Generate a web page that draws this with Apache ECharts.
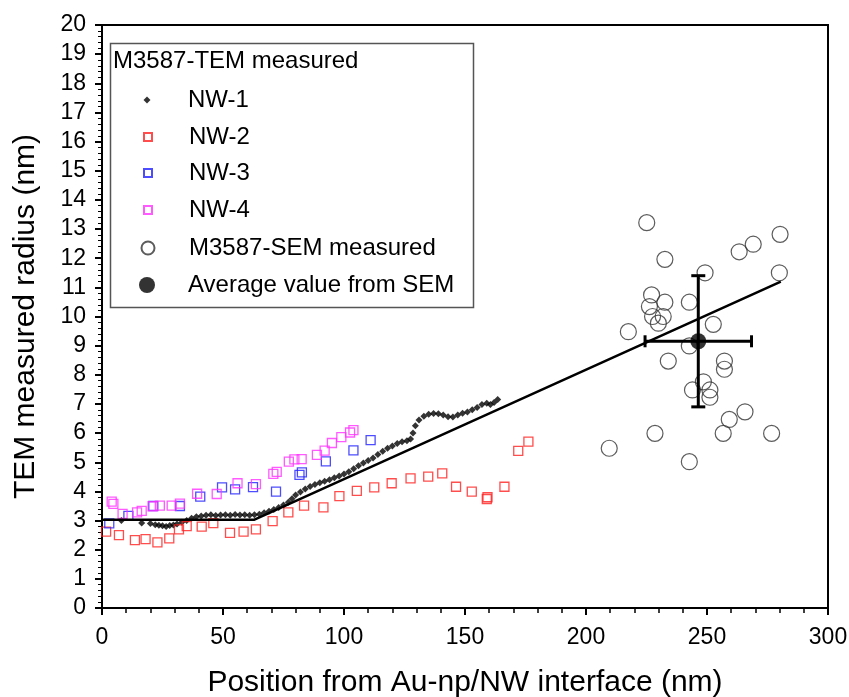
<!DOCTYPE html>
<html>
<head>
<meta charset="utf-8">
<script src="https://cdn.jsdelivr.net/npm/echarts@6/dist/echarts.min.js"></script>
<style>
  html, body { margin: 0; padding: 0; background: #fff; }
  #chart { width: 849px; height: 697px; }
</style>
</head>
<body>
<div id="chart"></div>
<script>
// TEM measured radius, [position nm, radius nm]
const nw1 = [
  [8, 3.0], [16.4, 2.92], [20, 2.9], [22, 2.86], [23.5, 2.84], [25, 2.82], [26.5, 2.8], [28, 2.83],
  [29.5, 2.85], [31, 2.88], [33, 2.94], [35, 3.0], [37, 3.08], [39, 3.13], [41, 3.16], [43, 3.18],
  [45, 3.2], [47, 3.17], [49, 3.19], [51, 3.2], [53, 3.18], [55, 3.21], [57, 3.19], [59, 3.2],
  [61, 3.18], [63, 3.2], [65, 3.22], [67, 3.27], [69, 3.32], [71, 3.38], [73, 3.45], [75, 3.53],
  [77, 3.63], [78.5, 3.75], [80, 3.88], [82, 3.98], [84, 4.08], [86, 4.17], [88, 4.24], [90, 4.3],
  [92, 4.35], [94, 4.4], [96, 4.47], [98, 4.53], [100, 4.6], [102, 4.67], [104, 4.78], [106, 4.88],
  [108, 4.97], [110, 5.06], [112, 5.15], [114, 5.27], [116, 5.38], [118, 5.48], [120, 5.56],
  [122, 5.64], [124, 5.7], [126, 5.74], [127.5, 5.8], [128.5, 6.0], [129.5, 6.25], [131, 6.45],
  [133, 6.58], [135, 6.65], [137, 6.67], [139, 6.66], [141, 6.62], [143, 6.56], [145, 6.55],
  [147, 6.62], [149, 6.68], [151, 6.72], [153, 6.8], [155, 6.88], [157, 6.98], [159, 7.02],
  [160.5, 6.98], [162, 7.05], [163.5, 7.15]
];
const nw2 = [
  [1.7, 2.62], [7, 2.5], [13.6, 2.33], [18, 2.36], [22.9, 2.25], [27.8, 2.39], [31.8, 2.7],
  [35, 2.81], [41.2, 2.79], [46, 2.91], [52.9, 2.58], [58.5, 2.62], [63.6, 2.7], [70.5, 2.98],
  [77, 3.28], [83.5, 3.51], [91.5, 3.45], [98.1, 3.84], [105.3, 4.02], [112.5, 4.14],
  [119.7, 4.28], [127.5, 4.45], [134.8, 4.51], [140.6, 4.62], [146.3, 4.16], [152.8, 3.99],
  [159, 3.74], [159.3, 3.8], [166.3, 4.16], [172, 5.39], [176.2, 5.71]
];
const nw3 = [
  [3, 2.9], [10.9, 3.16], [21.2, 3.5], [32.2, 3.5], [40.6, 3.82], [49.6, 4.14], [55, 4.07],
  [62.4, 4.15], [71.9, 3.99], [81.6, 4.57], [82.6, 4.65], [92.5, 5.03], [103.9, 5.41], [111, 5.76]
];
const nw4 = [
  [4, 3.65], [4.7, 3.57], [8.5, 3.23], [14.5, 3.28], [16.4, 3.33], [20.9, 3.49], [23.9, 3.51],
  [28.8, 3.51], [32.2, 3.58], [39.3, 3.92], [47.4, 3.91], [56, 4.28], [63.6, 4.25], [70.8, 4.6],
  [72.2, 4.67], [77.2, 5.02], [79.5, 5.1], [82.5, 5.11], [88.8, 5.25], [92, 5.4], [95, 5.66],
  [98.9, 5.86], [102.5, 6.02], [103.9, 6.1]
];
// SEM measured radius
const sem = [
  [225.1, 13.22], [232.6, 11.96], [249.2, 11.5], [263.3, 12.22], [269.1, 12.48], [280.2, 12.82],
  [279.9, 11.5], [227.1, 10.74], [232.6, 10.49], [226.2, 10.34], [242.7, 10.49], [231.9, 10.0],
  [227.5, 10.0], [229.9, 9.77], [217.5, 9.48], [252.6, 9.73], [242.7, 8.99], [234, 8.47],
  [257.2, 8.47], [257.2, 8.19], [248.5, 7.76], [244, 7.48], [251.2, 7.48], [251.2, 7.23],
  [265.7, 6.73], [259.2, 6.47], [228.5, 5.99], [256.7, 5.99], [276.7, 5.99], [209.6, 5.48],
  [242.7, 5.02]
];
// average from SEM: [x, y, xErr, yErr]
const semAvg = [[246.4, 9.15, 22, 2.25]];
// piecewise linear fit
const fitLine = [[0, 3.03], [63, 3.03], [280.5, 11.2]];

const xTicks = [0, 50, 100, 150, 200, 250, 300];
const yTicks = [0, 20];

const FONT = "'Liberation Sans', Arial, sans-serif";

const chart = echarts.init(document.getElementById('chart'));

const legendRow = (name, top, w) => ({
  data: [name],
  left: 147 - w / 2,
  top: top - 12,
  orient: 'vertical',
  padding: 0,
  itemWidth: w,
  itemHeight: w,
  selectedMode: false,
  textStyle: {
    fontFamily: FONT, fontSize: 24, color: '#000',
    padding: [0, 0, 0, 36 - w / 2]
  }
});

const option = {
  animation: false,
  backgroundColor: '#fff',
  grid: {
    left: 102, right: 21, top: 25, bottom: 89,
    outerBoundsMode: 'none', containLabel: false,
    show: true, borderColor: '#000', borderWidth: 2
  },
  xAxis: {
    type: 'value',
    min: xTicks[0], max: xTicks[xTicks.length - 1], interval: 50,
    name: 'Position from Au-np/NW interface (nm)',
    nameLocation: 'middle', nameGap: 60,
    nameTextStyle: { fontFamily: FONT, fontSize: 30, color: '#000' },
    axisLine: { lineStyle: { color: '#000', width: 2 } },
    axisTick: { length: 7, lineStyle: { color: '#000', width: 2 } },
    minorTick: { show: true, splitNumber: 5, length: 5, lineStyle: { color: '#000', width: 1.5 } },
    splitLine: { show: false },
    axisLabel: { fontFamily: FONT, fontSize: 23, color: '#000', margin: 18 }
  },
  yAxis: {
    type: 'value',
    min: yTicks[0], max: yTicks[1], interval: 1,
    name: 'TEM measured radius (nm)',
    nameLocation: 'middle', nameGap: 61,
    nameTextStyle: { fontFamily: FONT, fontSize: 30, color: '#000' },
    axisLine: { lineStyle: { color: '#000', width: 2 } },
    axisTick: { length: 7, lineStyle: { color: '#000', width: 2 } },
    minorTick: { show: true, splitNumber: 5, length: 4, lineStyle: { color: '#000', width: 1 } },
    splitLine: { show: false },
    axisLabel: { fontFamily: FONT, fontSize: 23, color: '#000', margin: 16 }
  },
  legend: [
    legendRow('NW-1', 100, 7),
    legendRow('NW-2', 137, 8),
    legendRow('NW-3', 173, 8),
    legendRow('NW-4', 210, 8),
    legendRow('M3587-SEM measured', 248, 13),
    legendRow('Average value from SEM', 285, 16)
  ],
  graphic: [
    {
      type: 'rect', left: 108, top: 41, z: 0,
      shape: { width: 363, height: 264 },
      style: { fill: 'none', stroke: '#555', lineWidth: 1.5 }
    },
    {
      type: 'text', left: 113, top: 49,
      style: { text: 'M3587-TEM measured', fontFamily: FONT, fontSize: 24, fill: '#000' }
    }
  ],
  series: [
    {
      name: 'NW-1', type: 'scatter', data: nw1,
      symbol: 'diamond', symbolSize: 7,
      itemStyle: { color: '#000' }
    },
    {
      name: 'NW-2', type: 'scatter', data: nw2,
      symbol: 'rect', symbolSize: 9,
      itemStyle: { color: 'rgba(0,0,0,0)', borderColor: '#ff2020', borderWidth: 1.3 }
    },
    {
      name: 'NW-3', type: 'scatter', data: nw3,
      symbol: 'rect', symbolSize: 9,
      itemStyle: { color: 'rgba(0,0,0,0)', borderColor: '#2020ff', borderWidth: 1.3 }
    },
    {
      name: 'NW-4', type: 'scatter', data: nw4,
      symbol: 'rect', symbolSize: 9,
      itemStyle: { color: 'rgba(0,0,0,0)', borderColor: '#ff30ff', borderWidth: 1.3 }
    },
    {
      name: 'M3587-SEM measured', type: 'scatter', data: sem,
      symbol: 'circle', symbolSize: 16,
      itemStyle: { color: 'rgba(0,0,0,0)', borderColor: '#333', borderWidth: 1.2 }
    },
    {
      name: 'fit', type: 'line', data: fitLine,
      symbol: 'none', z: 3,
      lineStyle: { color: '#000', width: 2.5 }
    },
    {
      name: 'errorbar', type: 'custom', data: semAvg, z: 4,
      encode: { x: 0, y: 1 },
      renderItem: (params, api) => {
        const x = api.value(0), y = api.value(1), xe = api.value(2), ye = api.value(3);
        const l = api.coord([x - xe, y]), r = api.coord([x + xe, y]);
        const t = api.coord([x, y + ye]), b = api.coord([x, y - ye]);
        const style = { stroke: '#000', lineWidth: 3 };
        const seg = (x1, y1, x2, y2) => ({ type: 'line', shape: { x1, y1, x2, y2 }, style });
        return {
          type: 'group',
          children: [
            seg(l[0], l[1], r[0], r[1]),
            seg(t[0], t[1], b[0], b[1]),
            seg(l[0], l[1] - 6, l[0], l[1] + 6),
            seg(r[0], r[1] - 6, r[0], r[1] + 6),
            seg(t[0] - 7, t[1], t[0] + 7, t[1]),
            seg(b[0] - 7, b[1], b[0] + 7, b[1])
          ]
        };
      }
    },
    {
      name: 'Average value from SEM', type: 'scatter', z: 5,
      data: semAvg.map(d => [d[0], d[1]]),
      symbol: 'circle', symbolSize: 16,
      itemStyle: { color: '#000' }
    }
  ]
};

chart.setOption(option);
window.addEventListener('resize', () => chart.resize());
</script>
</body>
</html>
